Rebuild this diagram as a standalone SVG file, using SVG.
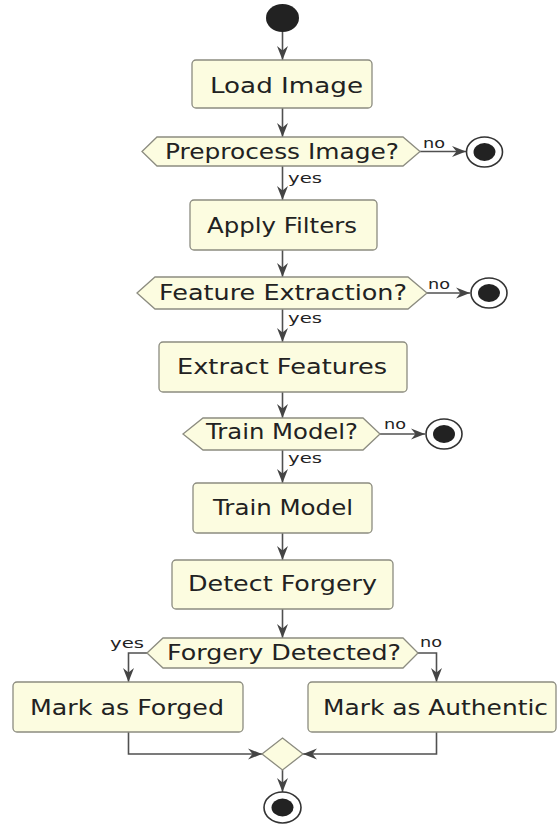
<svg xmlns="http://www.w3.org/2000/svg" width="557" height="824" viewBox="0 0 557 824">
  <defs>
    <marker id="arrow" viewBox="0 0 14 12" refX="14" refY="6" markerWidth="14" markerHeight="12" markerUnits="userSpaceOnUse" orient="auto">
      <path d="M0,0.5 L14,6 L0,11.5 L4.5,6 Z" fill="#444444"/>
    </marker>
    <style>
      .box { fill: #FCFCE0; stroke: #8C8C80; stroke-width: 1.3; }
      .label { font-family: "DejaVu Sans", "Liberation Sans", sans-serif; font-size: 20.5px; fill: #222222; }
      .small { font-family: "DejaVu Sans", "Liberation Sans", sans-serif; font-size: 14px; fill: #222222; }
      .edge { fill: none; stroke: #505050; stroke-width: 1.6; }
      .arrow { marker-end: url(#arrow); }
      .dot { fill: #222222; }
      .ring { fill: #FFFFFF; stroke: #333333; stroke-width: 1.6; }
    </style>
  </defs>

  <!-- connectors -->
  <g id="connectors">
    <path class="edge arrow" d="M282.5,32 V60"/>
    <path class="edge arrow" d="M282.5,108 V137"/>
    <path class="edge arrow" d="M282.5,166 V200"/>
    <path class="edge arrow" d="M282.5,250 V277"/>
    <path class="edge arrow" d="M282.5,309 V342"/>
    <path class="edge arrow" d="M282.5,392 V418"/>
    <path class="edge arrow" d="M282.5,450 V483"/>
    <path class="edge arrow" d="M282.5,533 V560"/>
    <path class="edge arrow" d="M282.5,609 V638"/>
    <path class="edge arrow" d="M420,151.5 H466"/>
    <path class="edge arrow" d="M427,293 H470"/>
    <path class="edge arrow" d="M380,434 H425"/>
    <path class="edge arrow" d="M147,653 H128.5 V682"/>
    <path class="edge arrow" d="M418,653 H436.5 V682"/>
    <path class="edge arrow" d="M128.5,732 V754 H262"/>
    <path class="edge arrow" d="M436.5,732 V754 H303"/>
    <path class="edge arrow" d="M282.5,770 V792"/>
    <text class="small" x="423" y="148" textLength="22" lengthAdjust="spacingAndGlyphs">no</text>
    <text class="small" x="288" y="183" textLength="34" lengthAdjust="spacingAndGlyphs">yes</text>
    <text class="small" x="428" y="289" textLength="22" lengthAdjust="spacingAndGlyphs">no</text>
    <text class="small" x="288" y="323" textLength="34" lengthAdjust="spacingAndGlyphs">yes</text>
    <text class="small" x="384" y="429" textLength="22" lengthAdjust="spacingAndGlyphs">no</text>
    <text class="small" x="288" y="463" textLength="34" lengthAdjust="spacingAndGlyphs">yes</text>
    <text class="small" x="110" y="648" textLength="34" lengthAdjust="spacingAndGlyphs">yes</text>
    <text class="small" x="420" y="647" textLength="22" lengthAdjust="spacingAndGlyphs">no</text>
  </g>

  <!-- start -->
  <g id="start">
    <ellipse class="dot" cx="282.5" cy="18" rx="16.5" ry="14"/>
  </g>

  <g id="load-image">
    <rect class="box" x="192" y="60" width="180" height="48" rx="4"/>
    <text class="label" x="210" y="93" textLength="153" lengthAdjust="spacingAndGlyphs">Load Image</text>
  </g>

  <g id="preprocess-decision">
    <polygon class="box" points="142,151.5 157,137 403,137 420,151.5 403,166 157,166"/>
    <text class="label" x="165" y="159" textLength="234" lengthAdjust="spacingAndGlyphs">Preprocess Image?</text>
  </g>

  <g id="end-1">
    <ellipse class="ring" cx="484.5" cy="152" rx="18" ry="15"/>
    <ellipse class="dot" cx="484.5" cy="152" rx="11" ry="9"/>
  </g>

  <g id="apply-filters">
    <rect class="box" x="190" y="200" width="187" height="50" rx="4"/>
    <text class="label" x="207" y="233" textLength="150" lengthAdjust="spacingAndGlyphs">Apply Filters</text>
  </g>

  <g id="feature-decision">
    <polygon class="box" points="137,293 155,277 408,277 427,293 408,309 155,309"/>
    <text class="label" x="159" y="300" textLength="248" lengthAdjust="spacingAndGlyphs">Feature Extraction?</text>
  </g>

  <g id="end-2">
    <ellipse class="ring" cx="489" cy="293" rx="18" ry="15"/>
    <ellipse class="dot" cx="489" cy="293" rx="11" ry="9"/>
  </g>

  <g id="extract-features">
    <rect class="box" x="159" y="342" width="248" height="50" rx="4"/>
    <text class="label" x="177" y="374" textLength="210" lengthAdjust="spacingAndGlyphs">Extract Features</text>
  </g>

  <g id="train-decision">
    <polygon class="box" points="183,434 203,418 363,418 380,434 363,450 203,450"/>
    <text class="label" x="206" y="439" textLength="152" lengthAdjust="spacingAndGlyphs">Train Model?</text>
  </g>

  <g id="end-3">
    <ellipse class="ring" cx="444" cy="434" rx="18" ry="15"/>
    <ellipse class="dot" cx="444" cy="434" rx="11" ry="9"/>
  </g>

  <g id="train-model">
    <rect class="box" x="193" y="483" width="179" height="50" rx="4"/>
    <text class="label" x="213" y="515" textLength="140" lengthAdjust="spacingAndGlyphs">Train Model</text>
  </g>

  <g id="detect-forgery">
    <rect class="box" x="172" y="560" width="221" height="49" rx="4"/>
    <text class="label" x="188" y="591" textLength="189" lengthAdjust="spacingAndGlyphs">Detect Forgery</text>
  </g>

  <g id="forgery-decision">
    <polygon class="box" points="147,653 163,638 403,638 418,653 403,668 163,668"/>
    <text class="label" x="167" y="660" textLength="234" lengthAdjust="spacingAndGlyphs">Forgery Detected?</text>
  </g>

  <g id="mark-forged">
    <rect class="box" x="13" y="682" width="230" height="50" rx="4"/>
    <text class="label" x="30" y="715" textLength="194" lengthAdjust="spacingAndGlyphs">Mark as Forged</text>
  </g>

  <g id="mark-authentic">
    <rect class="box" x="308" y="682" width="248" height="50" rx="4"/>
    <text class="label" x="323" y="715" textLength="225" lengthAdjust="spacingAndGlyphs">Mark as Authentic</text>
  </g>

  <g id="merge">
    <polygon class="box" points="282.5,738 303,754 282.5,770 262,754"/>
  </g>

  <g id="end-final">
    <ellipse class="ring" cx="282.5" cy="807.5" rx="18.5" ry="15.5"/>
    <ellipse class="dot" cx="282.5" cy="807.5" rx="11" ry="9"/>
  </g>
</svg>
